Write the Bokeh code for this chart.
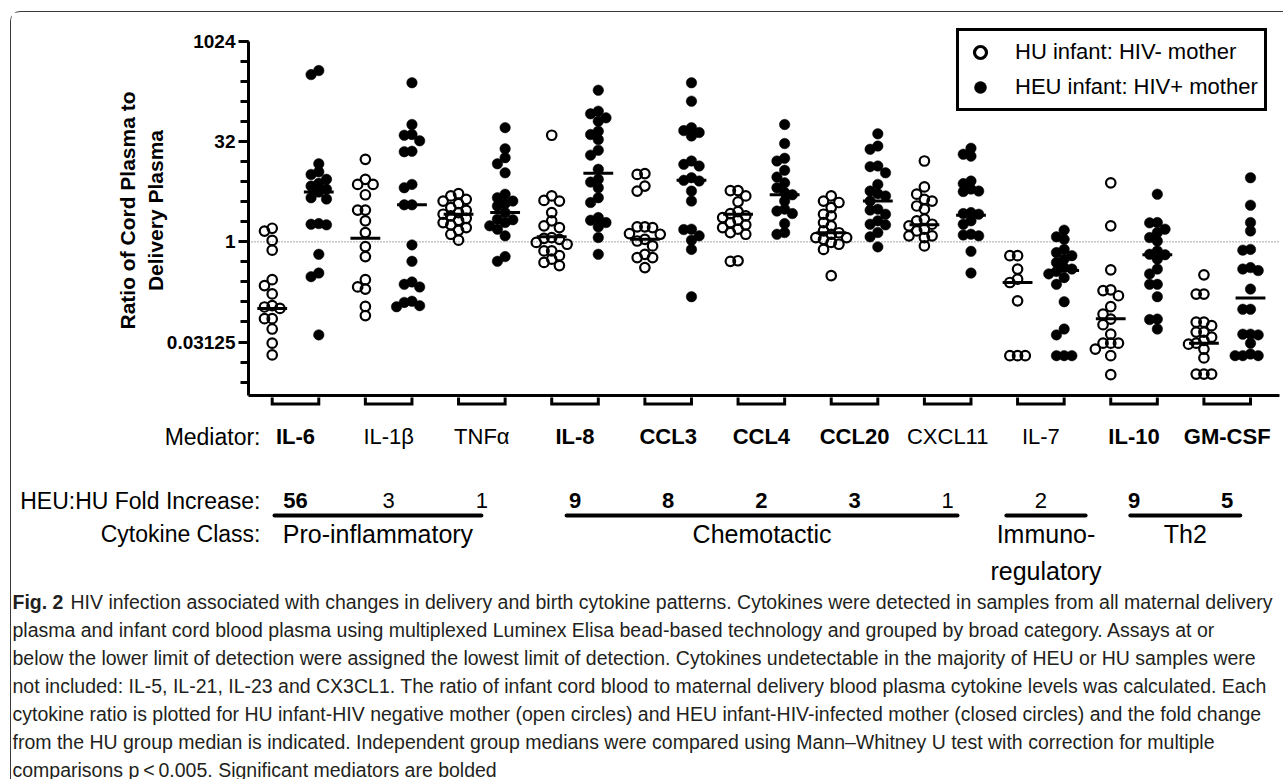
import numpy as np
from bokeh.plotting import figure
from bokeh.models import (Range1d, FixedTicker, CustomJSTickFormatter, Span,
                          Legend, LegendItem)
from bokeh.layouts import column
from bokeh.embed import file_html
from bokeh.resources import INLINE
from bokeh.core.properties import value

# ---------------- data (ratio of cord plasma to delivery plasma) ----------------
mediators = ["IL-6", "IL-1\u03b2", "TNF\u03b1", "IL-8", "CCL3", "CCL4", "CCL20",
             "CXCL11", "IL-7", "IL-10", "GM-CSF"]
significant = [True, False, False, True, True, True, True, False, False, True, True]
fold_increase = ["56", "3", "1", "9", "8", "2", "3", "1", "2", "9", "5"]

class_names = ["Pro-inflammatory", "Chemotactic", "Immuno-", "Th2"]
class_first = [0, 6, 16, 18]     # first category index of each class
class_last = [5, 15, 17, 21]     # last category index of each class

il6_hu = [1.6, 1.45, 1.05, 0.75, 0.27, 0.22, 0.165, 0.11, 0.105, 0.1, 0.07, 0.07, 0.049, 0.03, 0.02]
il6_heu = [375, 326, 14.9, 11.3, 10.3, 8.7, 7.6, 6.9, 6.2, 5.6, 4.6, 4.4, 1.88, 1.84, 1.80, 0.65, 0.34, 0.30, 0.04]
il1b_hu = [17.4, 8.7, 7.3, 7.3, 5.1, 3.0, 3.0, 2.07, 1.38, 0.85, 0.60, 0.27, 0.21, 0.195, 0.107, 0.078]
il1b_heu = [246, 58, 41, 40, 33, 23, 22.6, 7.3, 6.5, 3.6, 3.6, 0.90, 0.51, 0.25, 0.23, 0.21, 0.128, 0.123, 0.110, 0.106]
tnf_hu = [5.3, 4.9, 4.35, 4.1, 3.75, 3.27, 2.98, 2.75, 2.6, 2.45, 2.26, 2.11, 1.95, 1.80, 1.64, 1.49, 1.30, 1.06]
tnf_heu = [52, 25, 18.4, 14.9, 10.9, 5.2, 4.6, 4.1, 3.75, 3.46, 2.75, 2.19, 2.15, 1.95, 1.74, 1.55, 1.23, 0.60, 0.51]
il8_hu = [40, 4.9, 4.2, 4.1, 2.75, 2.07, 1.74, 1.64, 1.16, 1.13, 1.09, 0.98, 0.92, 0.73, 0.73, 0.62, 0.55, 0.49, 0.44]
il8_heu = [190, 92, 84, 73, 65, 46, 41, 34.5, 23.8, 20.1, 12.3, 8.7, 7.9, 6.5, 4.6, 3.9, 2.32, 2.11, 1.95, 1.68, 1.16, 0.65]
ccl3_hu = [10.6, 10.3, 6.9, 5.8, 1.68, 1.68, 1.64, 1.33, 1.30, 1.09, 1.03, 0.87, 0.65, 0.58, 0.58, 0.41]
ccl3_heu = [246, 130, 52, 47, 44, 39, 16.4, 14.6, 13.8, 9.2, 8.4, 8.2, 5.8, 4.1, 1.55, 1.53, 1.23, 1.06, 0.77, 0.15]
ccl4_hu = [5.9, 5.9, 4.9, 4.0, 2.85, 2.66, 2.45, 2.32, 2.11, 1.95, 1.80, 1.64, 1.55, 1.38, 1.30, 0.52, 0.51]
ccl4_heu = [58, 30, 18, 16.4, 11.9, 9.4, 7.7, 6.5, 5.5, 5.1, 4.1, 3.1, 2.9, 2.66, 1.88, 1.38, 1.30]
ccl20_hu = [4.9, 4.1, 3.9, 3.27, 2.6, 2.45, 1.95, 1.74, 1.46, 1.37, 1.30, 1.16, 1.16, 1.09, 0.98, 0.92, 0.77, 0.31]
ccl20_heu = [42, 27.5, 24.6, 13.8, 13.5, 10.9, 7.3, 5.8, 5.3, 4.9, 4.1, 3.1, 3.0, 2.6, 2.07, 1.84, 1.80, 1.38, 1.19, 0.84]
cxcl11_hu = [16.4, 6.7, 5.2, 4.35, 4.1, 3.46, 3.1, 2.19, 2.07, 1.84, 1.74, 1.55, 1.46, 1.23, 1.23, 1.16, 0.87]
cxcl11_heu = [25.5, 20.7, 19.4, 8.2, 7.5, 6.2, 5.8, 5.7, 2.75, 2.66, 2.6, 2.07, 1.84, 1.30, 1.27, 1.23, 0.72, 0.34]
il7_hu = [0.62, 0.62, 0.39, 0.275, 0.245, 0.13, 0.0195, 0.0195, 0.0195]
il7_heu = [1.5, 1.19, 1.09, 0.77, 0.69, 0.62, 0.55, 0.49, 0.41, 0.39, 0.36, 0.33, 0.29, 0.23, 0.126, 0.049, 0.040, 0.0195, 0.0195, 0.0195]
il10_hu = [7.7, 1.74, 0.38, 0.19, 0.185, 0.155, 0.106, 0.082, 0.069, 0.057, 0.041, 0.030, 0.030, 0.030, 0.0245, 0.0195, 0.0101]
il10_heu = [5.2, 1.95, 1.93, 1.55, 1.38, 1.16, 1.03, 0.73, 0.65, 0.64, 0.55, 0.39, 0.33, 0.23, 0.23, 0.15, 0.069, 0.068, 0.049]
gmcsf_hu = [0.32, 0.164, 0.164, 0.062, 0.062, 0.055, 0.044, 0.044, 0.037, 0.033, 0.030, 0.029, 0.0245, 0.018, 0.0103, 0.0103, 0.0103]
gmcsf_heu = [9.2, 3.55, 1.95, 1.46, 0.77, 0.75, 0.41, 0.39, 0.37, 0.195, 0.097, 0.097, 0.041, 0.041, 0.040, 0.030, 0.0206, 0.0195, 0.0195, 0.0195]

hu_median = [0.10, 1.13, 2.6, 1.19, 1.09, 2.6, 1.37, 1.80, 0.245, 0.07, 0.030]
heu_median = [5.6, 3.6, 2.75, 10.7, 8.4, 5.1, 4.1, 2.5, 0.37, 0.64, 0.143]

y_major_ticks = [0.03125, 1, 32, 1024]

caption_bold = "Fig. 2"
caption_lines = [
    "HIV infection associated with changes in delivery and birth cytokine patterns. Cytokines were detected in samples from all maternal delivery",
    "plasma and infant cord blood plasma using multiplexed Luminex Elisa bead-based technology and grouped by broad category. Assays at or",
    "below the lower limit of detection were assigned the lowest limit of detection. Cytokines undetectable in the majority of HEU or HU samples were",
    "not included: IL-5, IL-21, IL-23 and CX3CL1. The ratio of infant cord blood to maternal delivery blood plasma cytokine levels was calculated. Each",
    "cytokine ratio is plotted for HU infant-HIV negative mother (open circles) and HEU infant-HIV-infected mother (closed circles) and the fold change",
    "from the HU group median is indicated. Independent group medians were compared using Mann\u2013Whitney U test with correction for multiple",
    "comparisons p\u2009<\u20090.005. Significant mediators are bolded",
]

hu_groups = [il6_hu, il1b_hu, tnf_hu, il8_hu, ccl3_hu, ccl4_hu, ccl20_hu, cxcl11_hu, il7_hu, il10_hu, gmcsf_hu]
heu_groups = [il6_heu, il1b_heu, tnf_heu, il8_heu, ccl3_heu, ccl4_heu, ccl20_heu, cxcl11_heu, il7_heu, il10_heu, gmcsf_heu]

# ---------------- layout constants ----------------
FONT = "Liberation Sans"
W = 1272
H1 = 385
H2 = 382
LEFT, RIGHT, TOP, BOTTOM = 237, 4, 13, 2
S = 46.586                       # px per category unit
X0 = -0.5087
X1 = X0 + (W - LEFT - RIGHT) / S
Y0, Y1 = 2 ** -7.67, 2 ** 10.80  # axis line itself is bounded at 1024
PX_Y = (H1 - TOP - BOTTOM) / (np.log2(Y1) - np.log2(Y0))  # px per doubling


def swarm_offsets(vals, step_px=7.7, min_px=7.6, max_k=3):
    ypx = np.log2(np.asarray(vals, float)) * PX_Y
    order = np.argsort(-ypx, kind="stable")
    cands = [0.0]
    for k in range(1, max_k + 1):
        cands += [-k * step_px, k * step_px]
    px, py = [], []
    out = np.zeros(len(ypx))
    for i in order:
        best, best_d = 0.0, -1.0
        for c in cands:
            d = np.min(np.hypot(np.array(px) - c, np.array(py) - ypx[i])) if px else np.inf
            if d >= min_px:
                best = c
                break
            if d > best_d:
                best, best_d = c, d
        out[i] = best
        px.append(best)
        py.append(ypx[i])
    return out / S


hu_x, hu_y, heu_x, heu_y = [], [], [], []
for k in range(len(mediators)):
    hu_x += list(2 * k + swarm_offsets(hu_groups[k]))
    hu_y += list(hu_groups[k])
    heu_x += list(2 * k + 1 + swarm_offsets(heu_groups[k]))
    heu_y += list(heu_groups[k])

# ---------------- main plot ----------------
p = figure(width=W, height=H1, x_range=Range1d(X0, X1), y_range=Range1d(Y0, Y1),
           y_axis_type="log", output_backend="svg", toolbar_location=None, title=None,
           min_border_left=LEFT, min_border_right=RIGHT, min_border_top=TOP,
           min_border_bottom=BOTTOM)
p.grid.visible = False
p.outline_line_color = None

xa = p.xaxis[0]
xa.ticker = FixedTicker(ticks=[])
xa.major_tick_in = 0
xa.major_tick_out = 0
xa.major_label_standoff = 0
xa.minor_tick_line_color = None
xa.major_tick_line_color = None
xa.axis_line_width = 3

ya = p.yaxis[0]
ya.bounds = (Y0, 1024)
ya.ticker = FixedTicker(ticks=y_major_ticks, minor_ticks=[2.0 ** e for e in range(-7, 11)])
ya.formatter = CustomJSTickFormatter(code="return tick.toString();")
ya.axis_line_width = 3
ya.major_tick_in = 0
ya.major_tick_out = 10
ya.major_tick_line_width = 3
ya.minor_tick_in = 0
ya.minor_tick_out = 8
ya.minor_tick_line_width = 3
ya.major_label_text_font = FONT
ya.major_label_text_font_style = "bold"
ya.major_label_text_font_size = "19px"
ya.major_label_text_color = "black"
ya.major_label_standoff = 3
ya.axis_label = "Ratio of Cord Plasma to\nDelivery Plasma"
ya.axis_label_text_font = FONT
ya.axis_label_text_font_style = "bold"
ya.axis_label_text_font_size = "21px"
ya.axis_label_text_color = "black"
ya.axis_label_standoff = -3

p.add_layout(Span(location=1, dimension="width", line_color="#555555",
                  line_width=1, line_dash="1 2", level="underlay"))

p.scatter(x=hu_x, y=hu_y, marker="circle", size=9.5, fill_color=None,
          line_color="black", line_width=2.2)
p.scatter(x=heu_x, y=heu_y, marker="circle", size=10.5, fill_color="black",
          line_color="black", line_width=0.5)

hu_idx = [2 * k for k in range(len(mediators))]
heu_idx = [2 * k + 1 for k in range(len(mediators))]
p.segment(x0=[i - 0.32 for i in hu_idx], x1=[i + 0.32 for i in hu_idx],
          y0=hu_median, y1=hu_median, line_width=3, line_color="black")
p.segment(x0=[i - 0.32 for i in heu_idx], x1=[i + 0.32 for i in heu_idx],
          y0=heu_median, y1=heu_median, line_width=3, line_color="black")

# legend-only glyphs (no visible data point)
leg_open = p.scatter(x=[np.nan], y=[np.nan], marker="circle", size=13, fill_color=None,
                     line_color="black", line_width=3.2)
leg_fill = p.scatter(x=[np.nan], y=[np.nan], marker="circle", size=15, fill_color="black",
                     line_color="black", line_width=0.5)
legend = Legend(items=[LegendItem(label="HU infant: HIV- mother", renderers=[leg_open]),
                       LegendItem(label="HEU infant: HIV+ mother", renderers=[leg_fill])],
                location=(708, 284), margin=0, padding=6, spacing=5,
                glyph_width=30, glyph_height=30, label_height=26, label_standoff=20,
                label_text_font=FONT, label_text_font_size="22px", label_text_color="black",
                border_line_color="black", border_line_width=3, border_line_alpha=1.0,
                background_fill_color="white", background_fill_alpha=1.0)
p.add_layout(legend)

# ---------------- labels / caption panel ----------------
q = figure(width=W, height=H2, x_range=Range1d(0, W), y_range=Range1d(H2, 0),
           output_backend="svg", toolbar_location=None, title=None,
           min_border_left=0, min_border_right=0, min_border_top=0, min_border_bottom=0,
           x_axis_location=None, y_axis_location=None)
q.extra_x_ranges = {"cat": Range1d(X0 - LEFT / S, X1 + RIGHT / S)}
q.grid.visible = False
q.outline_line_color = None

# brackets joining each HU/HEU pair
q.multi_line(xs=[[h, h, e, e] for h, e in zip(hu_idx, heu_idx)],
             ys=[[-3, 6.5, 6.5, -3]] * len(hu_idx), x_range_name="cat",
             line_width=3, line_color="black", line_join="miter")

centers = [2 * k + 0.5 for k in range(len(mediators))]
bold_c = [c for c, s in zip(centers, significant) if s]
norm_c = [c for c, s in zip(centers, significant) if not s]
bold_m = [m for m, s in zip(mediators, significant) if s]
norm_m = [m for m, s in zip(mediators, significant) if not s]
bold_f = [f for f, s in zip(fold_increase, significant) if s]
norm_f = [f for f, s in zip(fold_increase, significant) if not s]

ROW_MED, ROW_FOLD, ROW_LINE, ROW_CLASS, ROW_CLASS2 = 39, 103, 118, 136, 173
for xs, txt, style, row in [(bold_c, bold_m, "bold", ROW_MED), (norm_c, norm_m, "normal", ROW_MED),
                            (bold_c, bold_f, "bold", ROW_FOLD), (norm_c, norm_f, "normal", ROW_FOLD)]:
    q.text(x=xs, y=[row] * len(xs), text=txt, x_range_name="cat",
           text_font=value(FONT), text_font_size="22px", text_font_style=style,
           text_align="center", text_baseline="middle", text_color="black")

q.text(x=[249, 249, 249], y=[ROW_MED, ROW_FOLD, ROW_CLASS],
       text=["Mediator:", "HEU:HU Fold Increase:", "Cytokine Class:"],
       text_font=value(FONT), text_font_size="23px", text_align="right",
       text_baseline="middle", text_color="black")

inset_l = [0.05, 0.32, -0.24, 0.42]
inset_r = [0.51, 0.29, -0.46, 0.22]
cx0 = [f + a for f, a in zip(class_first, inset_l)]
cx1 = [l - b for l, b in zip(class_last, inset_r)]
q.segment(x0=cx0, x1=cx1, y0=ROW_LINE, y1=ROW_LINE, x_range_name="cat",
          line_width=4, line_color="black", line_cap="round")
ccent = [(a + b) / 2 for a, b in zip(cx0, cx1)]
q.text(x=ccent, y=[ROW_CLASS] * 4, text=class_names, x_range_name="cat",
       text_font=value(FONT), text_font_size="25px", text_align="center",
       text_baseline="middle", text_color="black")
q.text(x=[ccent[2]], y=[ROW_CLASS2], text=["regulatory"], x_range_name="cat",
       text_font=value(FONT), text_font_size="25px", text_align="center",
       text_baseline="middle", text_color="black")

CAP_Y0, CAP_DY, CAP_SIZE = 204, 28.0, "19.5px"
q.text(x=[1], y=[CAP_Y0], text=[caption_bold], text_font=value(FONT),
       text_font_size=CAP_SIZE, text_font_style="bold", text_baseline="middle",
       text_color="#231f20")
q.text(x=[59] + [1] * (len(caption_lines) - 1),
       y=[CAP_Y0 + i * CAP_DY for i in range(len(caption_lines))],
       text=caption_lines, text_font=value(FONT), text_font_size=CAP_SIZE,
       text_baseline="middle", text_color="#231f20")

layout = column(p, column(q), spacing=0,
                styles={"border-top": "1px solid #3a3a3a", "border-left": "1px solid #3a3a3a",
                        "border-top-left-radius": "10px", "margin-left": "10px",
                        "margin-top": "11px"})

open("out.html", "w").write(file_html(layout, INLINE))
